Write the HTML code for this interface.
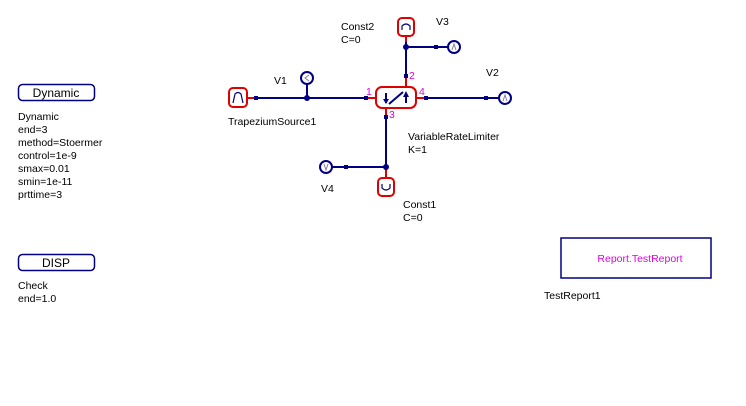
<!DOCTYPE html>
<html><head><style>
body{margin:0;background:#fff;width:746px;height:401px;overflow:hidden}
</style></head><body>
<svg width="746" height="401" xmlns="http://www.w3.org/2000/svg" font-family="Liberation Sans, sans-serif" font-size="10.5">
<rect width="746" height="401" fill="#fff"/>
<rect x="18.5" y="84.5" width="76" height="16" rx="4" fill="none" stroke="#000080" stroke-width="1.5"/>
<text x="56" y="97" text-anchor="middle" font-size="12">Dynamic</text>
<text x="18" y="120">Dynamic</text>
<text x="18" y="133">end=3</text>
<text x="18" y="146">method=Stoermer</text>
<text x="18" y="159">control=1e-9</text>
<text x="18" y="172">smax=0.01</text>
<text x="18" y="185">smin=1e-11</text>
<text x="18" y="198">prttime=3</text>
<rect x="18.5" y="254.5" width="76" height="16" rx="4" fill="none" stroke="#000080" stroke-width="1.5"/>
<text x="56" y="267" text-anchor="middle" font-size="12">DISP</text>
<text x="18" y="289">Check</text>
<text x="18" y="302">end=1.0</text>
<g stroke="#000080" stroke-width="2" fill="none">
<line x1="247" y1="98" x2="370" y2="98"/>
<line x1="307" y1="98" x2="307" y2="84"/>
<line x1="416" y1="98" x2="499" y2="98"/>
<line x1="406" y1="36" x2="406" y2="82"/>
<line x1="406" y1="47" x2="448" y2="47"/>
<line x1="386" y1="114" x2="386" y2="178"/>
<line x1="332" y1="167" x2="386" y2="167"/>
</g>
<g fill="#000080">
<circle cx="307" cy="98" r="3"/><circle cx="406" cy="47" r="3"/><circle cx="386" cy="167" r="3"/>
<rect x="254" y="96" width="4" height="4"/><rect x="364" y="96" width="4" height="4"/>
<rect x="424" y="96" width="4" height="4"/><rect x="484" y="96" width="4" height="4"/>
<rect x="404" y="74" width="4" height="4"/><rect x="434" y="45" width="4" height="4"/>
<rect x="384" y="115" width="4" height="4"/><rect x="344" y="165" width="4" height="4"/>
</g>
<g stroke="#e00000" stroke-width="2">
<line x1="247" y1="98" x2="254" y2="98"/>
<line x1="368" y1="98" x2="376" y2="98"/>
<line x1="416" y1="98" x2="424" y2="98"/>
<line x1="406" y1="78" x2="406" y2="87"/>
<line x1="386" y1="108" x2="386" y2="115"/>
<line x1="406" y1="36" x2="406" y2="42"/>
<line x1="386" y1="170" x2="386" y2="178"/>
</g>
<g fill="#fff" stroke="#e00000" stroke-width="2">
<rect x="229" y="88" width="18" height="19" rx="4"/>
<rect x="398" y="18" width="16" height="18" rx="4"/>
<rect x="378" y="178" width="16" height="18" rx="4"/>
<rect x="376" y="87" width="40" height="21" rx="6"/>
</g>
<g stroke="#000080" stroke-width="1.2" fill="none">
<path d="M233 103 L235 94 Q238 91 241 94 L243 103"/>
<path d="M402 30 L402 26 Q406 22 410 26 L410 30"/>
<path d="M382 184 L382 188 Q386 192 390 188 L390 184"/>
<line x1="389" y1="104" x2="403" y2="92" stroke-width="2"/>
<line x1="386" y1="93" x2="386" y2="103" stroke-width="2"/>
<line x1="406" y1="93" x2="406" y2="103" stroke-width="2"/>
</g>
<g fill="#000080"><path d="M383 99 L389 99 L386 104Z"/><path d="M403 97 L409 97 L406 91Z"/></g>
<g fill="#fff" stroke="#000080" stroke-width="2">
<circle cx="307" cy="78" r="6"/><circle cx="454" cy="47" r="6"/><circle cx="505" cy="98" r="6"/><circle cx="326" cy="167" r="6"/>
</g>
<g fill="none" stroke="#8080a0" stroke-width="1">
<path d="M309 75 L305 78 L309 81"/><path d="M452 50 L454 44 L456 50"/><path d="M503 101 L505 95 L507 101"/><path d="M324 164 L326 170 L328 164"/>
</g>
<g fill="#e000e0" font-size="10.5">
<text x="366" y="95">1</text><text x="409" y="79">2</text><text x="389" y="118">3</text><text x="419" y="95">4</text>
</g>
<text x="274" y="84">V1</text>
<text x="228" y="125">TrapeziumSource1</text>
<text x="341" y="30">Const2</text><text x="341" y="43">C=0</text>
<text x="436" y="25">V3</text>
<text x="486" y="76">V2</text>
<text x="408" y="140">VariableRateLimiter</text><text x="408" y="153">K=1</text>
<text x="321" y="192">V4</text>
<text x="403" y="208">Const1</text><text x="403" y="221">C=0</text>
<rect x="561" y="238" width="150" height="40" fill="none" stroke="#000080" stroke-width="1.5"/>
<text x="640" y="262" text-anchor="middle" fill="#e000e0">Report.TestReport</text>
<text x="544" y="299">TestReport1</text>
</svg>
</body></html>
